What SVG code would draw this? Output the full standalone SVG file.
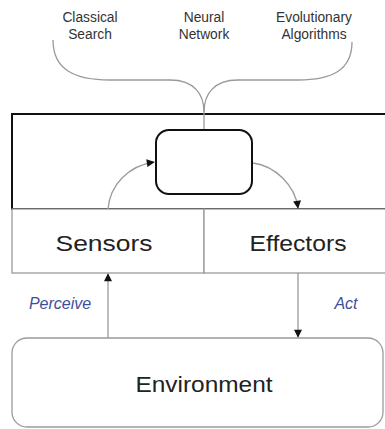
<svg xmlns="http://www.w3.org/2000/svg" width="385" height="429" viewBox="0 0 385 429">
<defs>
<style>
.lbl{font-family:"Liberation Sans",Arial,sans-serif;fill:#222;text-anchor:middle}
.small{font-size:13.8px;fill:#333}
.big{font-size:22px}
.verb{font-family:"Liberation Sans",Arial,sans-serif;font-size:16px;font-style:italic;fill:#3d4f9a;text-anchor:middle}
.conn{fill:none;stroke:#9a9a9a;stroke-width:1.3}
.box{fill:#fff;stroke:#9a9a9a;stroke-width:1.3}
</style>
<marker id="ah" viewBox="0 0 10 10" refX="9" refY="5" markerWidth="9" markerHeight="8" markerUnits="userSpaceOnUse" orient="auto">
<path d="M0,0 L10,5 L0,10 z" fill="#111"/>
</marker>
</defs>
<rect width="385" height="429" fill="#fff"/>

<g id="environment">
<rect class="box" x="12" y="338" width="371" height="89" rx="15"/>
<text class="lbl big" x="204" y="392" textLength="137" lengthAdjust="spacingAndGlyphs">Environment</text>
</g>

<g id="agent">
<rect x="12" y="114" width="380" height="95" fill="#fff" stroke="#111" stroke-width="2"/>
</g>

<g id="sensors">
<rect class="box" x="12" y="209" width="192" height="64"/>
<text class="lbl big" x="104" y="251" textLength="97" lengthAdjust="spacingAndGlyphs">Sensors</text>
</g>

<g id="effectors">
<rect class="box" x="204" y="209" width="190" height="64"/>
<text class="lbl big" x="298" y="251" textLength="97" lengthAdjust="spacingAndGlyphs">Effectors</text>
</g>

<g id="sources">
<text class="lbl small" x="90" y="22">Classical</text>
<text class="lbl small" x="90" y="39">Search</text>
<text class="lbl small" x="204" y="22">Neural</text>
<text class="lbl small" x="204" y="39">Network</text>
<text class="lbl small" x="314" y="22">Evolutionary</text>
<text class="lbl small" x="314" y="39">Algorithms</text>
</g>

<g id="connectors">
<path class="conn" d="M53,40 C53,70 75,80 110,80 L170,80 C195,80 204,95 204,112"/>
<path class="conn" d="M352,42 C352,70 332,80 298,80 L238,80 C213,80 204,95 204,112"/>
<path class="conn" d="M204,112 L204,130"/>
<path class="conn" d="M108,209 C110,185 128,166 154,162" marker-end="url(#ah)"/>
<path class="conn" d="M253,163 C275,166 295,185 298,208" marker-end="url(#ah)"/>
<path class="conn" d="M108,338 L108,274" marker-end="url(#ah)"/>
<path class="conn" d="M298,273 L298,337" marker-end="url(#ah)"/>
<text class="verb" x="60" y="309">Perceive</text>
<text class="verb" x="346" y="309">Act</text>
</g>

<g id="controller">
<rect x="156" y="130" width="96" height="64" rx="13" fill="#fff" stroke="#111" stroke-width="2"/>
</g>
</svg>
